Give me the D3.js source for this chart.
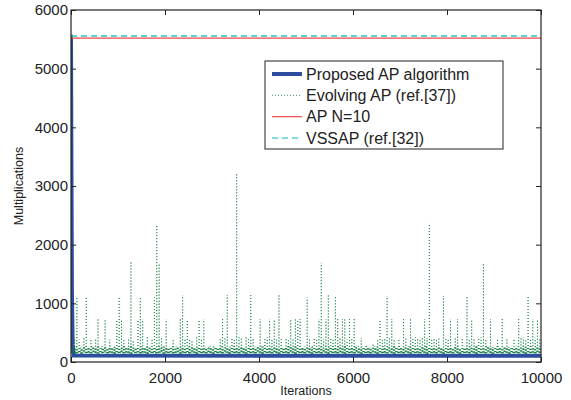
<!DOCTYPE html>
<html>
<head>
<meta charset="utf-8">
<script src="https://cdn.jsdelivr.net/npm/d3@7"></script>
<style>
  html, body { margin: 0; padding: 0; background: #fff; }
  svg { display: block; font-family: "Liberation Sans", Arial, Helvetica, sans-serif; }
</style>
</head>
<body>
<svg id="chart" width="571" height="400"></svg>
<script>
// ---------------- data ----------------
const xTicks = [0, 2000, 4000, 6000, 8000, 10000];
const yTicks = [0, 1000, 2000, 3000, 4000, 5000, 6000];
const seriesNames = ["Proposed AP algorithm", "Evolving AP (ref.[37])", "AP N=10", "VSSAP (ref.[32])"];

// Proposed AP algorithm (fast drop then flat)
const proposedIter = [0, 10, 20, 35, 60, 10000];
const proposedVal  = [5580, 3200, 1200, 300, 110, 105];

// AP N=10 and VSSAP are constant
const apIter = [0, 10000];
const apVal = [5520, 5520];
const vssapIter = [0, 10000];
const vssapVal = [5555, 5555];

// Evolving AP: per 50-iteration bin, a low value, a small bump and a peak value (read approx. from picture)
const evolvingLow = [
  5580,160,150,170,145,180,155,165,150,175, 160,145,170,155,180,150,165,160,145,170,
  155,175,150,165,160,145,180,155,170,150, 165,160,145,175,155,170,150,160,180,145,
  165,155,170,150,160,175,145,165,155,170, 150,180,160,145,170,155,165,150,175,160,
  145,170,155,165,150,180,160,145,170,155, 165,150,175,160,145,170,155,165,150,180,
  160,145,170,155,165,150,175,160,145,170, 155,165,150,180,160,145,170,155,165,150,
  175,160,145,170,155,165,150,180,160,145, 170,155,165,150,175,160,145,170,155,165,
  150,180,160,145,170,155,165,150,175,160, 145,170,155,165,150,180,160,145,170,155,
  165,150,175,160,145,170,155,165,150,180, 160,145,170,155,165,150,175,160,145,170,
  155,165,150,180,160,145,170,155,165,150, 175,160,145,170,155,165,150,180,160,145,
  170,155,165,150,175,160,145,170,155,165, 150,180,160,145,170,155,165,150,175,160
];
const evolvingMid = [
  260,240,270,230,255,245,265,235,250,275, 240,260,230,270,250,245,265,235,255,240,
  270,230,260,250,245,275,235,255,265,240, 250,230,270,245,260,235,255,275,240,265,
  245,255,230,270,250,260,240,265,235,255, 275,245,250,230,265,240,260,255,235,270,
  250,265,240,255,275,230,260,245,250,270, 235,255,265,240,250,230,270,245,260,255,
  240,270,250,235,265,255,245,260,230,275, 250,240,265,255,235,270,245,260,250,240,
  265,230,255,270,245,250,260,235,275,240, 255,265,245,230,260,250,270,240,255,235,
  245,260,275,250,235,265,240,255,230,270, 260,245,250,265,240,255,235,270,245,260,
  250,235,265,255,270,240,260,230,250,275, 245,265,240,255,260,235,270,250,245,230,
  265,250,240,270,255,245,230,260,275,250, 240,255,265,235,250,270,245,260,240,255,
  230,265,250,245,270,240,255,260,235,265, 250,240,270,255,245,260,230,250,265,240
];
const evolvingPeak = [
  250, 420,1100, 380, 240, 410,1100, 230, 400, 260, 390, 730, 220, 250, 730, 210, 380, 240, 260, 730,
 1100, 730, 400, 230, 410,1700, 380, 250, 730,1100, 730, 240, 420, 220, 400,1100,2350,1690, 410, 250,
  730, 240, 260, 390, 220, 250, 730,1140, 410, 730, 400, 380, 250, 420, 730, 400, 730, 230, 260, 240,
  230, 250, 240, 400, 730, 420,1140, 250, 410, 390,3220, 420, 400, 260, 420, 390,1140, 410, 240, 250,
  730, 230, 400, 420, 730, 390, 730, 410,1140, 400, 250, 420, 380, 730, 410, 730, 730, 730, 240, 260,
 1100, 410, 250, 420, 400, 730,1690, 390, 730,1140, 420, 400,1125, 730, 410, 730, 730, 380, 730, 400,
  730, 250, 240, 410, 230, 260, 240, 250, 300, 240, 400, 730, 410, 390,1125, 420, 730, 400, 250, 410,
  240, 730, 400, 250, 730, 410, 420, 390, 400, 420, 730, 410,2370, 400, 420, 390, 410, 250,1125, 400,
  410, 730, 250, 400, 730, 240, 420, 250,1125, 400, 730, 390, 260, 410, 420,1690, 400, 250, 730, 240,
  250, 400, 240, 730, 260, 410, 250, 240, 400, 230, 730, 410, 420, 400,1125, 390, 730, 410, 730, 400
];
const evolvingBin = 50;

// ---------------- layout ----------------
const svg = d3.select("#chart");
const M = { left: 71, right: 541, top: 10, bottom: 362 };
const x = d3.scaleLinear().domain([0, 10000]).range([M.left, M.right]);
const y = d3.scaleLinear().domain([0, 6000]).range([M.bottom, M.top]);

const colors = { proposed: "#2d4d9e", evolving: "#0b7c3c", ap: "#f24a4a", vssap: "#2ec4c4" };

svg.append("defs").append("clipPath").attr("id", "plotclip")
  .append("rect").attr("x", M.left).attr("y", M.top)
  .attr("width", M.right - M.left).attr("height", M.bottom - M.top);

const plot = svg.append("g").attr("clip-path", "url(#plotclip)");
const line = d3.line().x(d => x(d[0])).y(d => y(d[1]));

// proposed
plot.append("path")
  .datum(proposedIter.map((t, i) => [t, proposedVal[i]]))
  .attr("d", line).attr("fill", "none")
  .attr("stroke", colors.proposed).attr("stroke-width", 4);

// evolving: within each bin low -> bump -> low -> peak -> low (near-vertical strokes)
const evoPts = [[0, evolvingLow[0]]];
evolvingLow.forEach((v, i) => {
  const b = i * evolvingBin;
  const lo = i === 0 ? 160 : v;
  evoPts.push([b + 2, lo]);
  evoPts.push([b + 12, evolvingMid[i]]);
  evoPts.push([b + 22, lo]);
  evoPts.push([b + 25, evolvingPeak[i]]);
  evoPts.push([b + 28, lo]);
  evoPts.push([b + 38, evolvingMid[(i + 100) % evolvingMid.length]]);
  evoPts.push([b + 48, lo]);
});
// draw each step from its lower end upward so dotted patterns of up/down strokes coincide
const evoSegs = d3.pairs(evoPts).map(([a, b]) => (a[1] <= b[1] ? [a, b] : [b, a]));
plot.append("g").selectAll("path")
  .data(evoSegs).join("path")
  .attr("d", line).attr("fill", "none")
  .attr("stroke", colors.evolving).attr("stroke-width", 1)
  .attr("stroke-opacity", 0.8)
  .attr("stroke-dasharray", "1,2");

// AP N=10
plot.append("path")
  .datum(apIter.map((t, i) => [t, apVal[i]]))
  .attr("d", line).attr("fill", "none")
  .attr("stroke", colors.ap).attr("stroke-width", 1.2);

// VSSAP
plot.append("path")
  .datum(vssapIter.map((t, i) => [t, vssapVal[i]]))
  .attr("d", line).attr("fill", "none")
  .attr("stroke", colors.vssap).attr("stroke-width", 1.5)
  .attr("stroke-dasharray", "6,4");

// ---------------- axes ----------------
const fontSize = 15;
const xAxis = svg.append("g").attr("transform", `translate(0,${M.bottom})`)
  .call(d3.axisBottom(x).tickValues(xTicks).tickFormat(d3.format("d")).tickSizeInner(-5).tickSizeOuter(0).tickPadding(10));
const xAxisTop = svg.append("g").attr("transform", `translate(0,${M.top})`)
  .call(d3.axisTop(x).tickValues(xTicks).tickFormat("").tickSizeInner(-5).tickSizeOuter(0));
const yAxis = svg.append("g").attr("transform", `translate(${M.left},0)`)
  .call(d3.axisLeft(y).tickValues(yTicks).tickFormat(d3.format("d")).tickSizeInner(-5).tickSizeOuter(0).tickPadding(3));
const yAxisRight = svg.append("g").attr("transform", `translate(${M.right},0)`)
  .call(d3.axisRight(y).tickValues(yTicks).tickFormat("").tickSizeInner(-5).tickSizeOuter(0));

[xAxis, xAxisTop, yAxis, yAxisRight].forEach(g => {
  g.select(".domain").remove();
  g.selectAll(".tick line").attr("stroke", "#222").attr("stroke-width", 1);
  g.selectAll("text").attr("font-size", fontSize).attr("fill", "#222")
    .attr("font-family", "Liberation Sans, Arial, sans-serif");
});

// frame
svg.append("rect").attr("x", M.left).attr("y", M.top)
  .attr("width", M.right - M.left).attr("height", M.bottom - M.top)
  .attr("fill", "none").attr("stroke", "#222").attr("stroke-width", 1.2);

// axis labels
svg.append("text").attr("x", (M.left + M.right) / 2).attr("y", 395)
  .attr("text-anchor", "middle").attr("font-size", 12.5).attr("fill", "#222").text("Iterations");
svg.append("text").attr("transform", `translate(23,${(M.top + M.bottom) / 2}) rotate(-90)`)
  .attr("text-anchor", "middle").attr("font-size", 12.5).attr("fill", "#222").text("Multiplications");

// ---------------- legend ----------------
const lg = svg.append("g");
lg.append("rect").attr("x", 265).attr("y", 61).attr("width", 238).attr("height", 88)
  .attr("fill", "#fff").attr("stroke", "#222").attr("stroke-width", 1);
const legendStyles = [
  { c: colors.proposed, w: 4, dash: null },
  { c: colors.evolving, w: 1, dash: "1,2" },
  { c: colors.ap, w: 1.2, dash: null },
  { c: colors.vssap, w: 1.5, dash: "6,4" }
];
const rowY = d3.scaleLinear().domain([0, 3]).range([74, 138]);
seriesNames.forEach((name, i) => {
  const yy = rowY(i);
  const s = legendStyles[i];
  const l = lg.append("line").attr("x1", 272).attr("x2", 302).attr("y1", yy).attr("y2", yy)
    .attr("stroke", s.c).attr("stroke-width", s.w);
  if (s.dash) l.attr("stroke-dasharray", s.dash).attr("stroke-opacity", 0.8);
  lg.append("text").attr("x", 306).attr("y", yy + 5.5).attr("font-size", 16)
    .attr("fill", "#222").text(name);
});
</script>
</body>
</html>
